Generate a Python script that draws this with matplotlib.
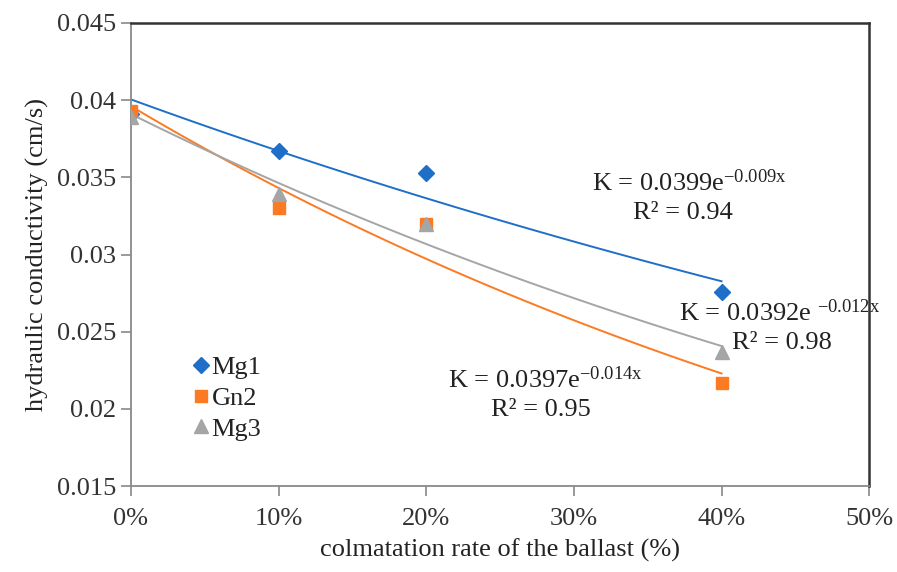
import numpy as np
import matplotlib.pyplot as plt

plt.rcParams['font.family'] = ['Liberation Serif', 'DejaVu Serif']
plt.rcParams['mathtext.fontset'] = 'custom'
plt.rcParams['mathtext.rm'] = 'Liberation Serif'
plt.rcParams['mathtext.it'] = 'Liberation Serif'

# données
taux = [0, 10, 20, 40]
mg1 = [0.0391, 0.0367, 0.0353, 0.0276]
gn2 = [0.0393, 0.0330, 0.0320, 0.0217]
mg3 = [0.0389, 0.0339, 0.0320, 0.0237]

noms = ["Mg1", "Gn2", "Mg3"]
couleurs = ["#1F6FC8", "#FB7A22", "#A5A5A5"]
marqueurs = ["D", "s", "^"]
tailles = [8, 9, 10]

equations = [r"K = 0.0399e$^{\mathrm{-0.009x}}$",
             r"K = 0.0392e $^{\mathrm{-0.012x}}$",
             r"K = 0.0397e$^{\mathrm{-0.014x}}$"]
r2 = ["R² = 0.94", "R² = 0.98", "R² = 0.95"]

fig = plt.figure(figsize=(8.97, 5.72), dpi=100)
ax = fig.add_axes([0.146, 0.150, 0.823, 0.810])

x = np.array(taux, dtype=float)
xs = np.linspace(0, 40, 100)
for serie, c in zip([mg1, gn2, mg3], couleurs):
    # courbe de tendance exponentielle (comme Excel)
    pente, ordonnee = np.polyfit(x, np.log(serie), 1)
    ax.plot(xs, np.exp(ordonnee) * np.exp(pente * xs), color=c, lw=1.4, zorder=2)
for serie, nom, c, m, t in zip([mg1, gn2, mg3], noms, couleurs, marqueurs, tailles):
    ax.plot(x, serie, ls="none", marker=m, ms=t, color=c, mec=c, label=nom, zorder=3)

ax.set_xlim(0, 50)
ax.set_ylim(0.015, 0.045)
ax.set_xticks([0, 10, 20, 30, 40, 50])
ax.set_xticklabels(["0%", "10%", "20%", "30%", "40%", "50%"])
ax.set_yticks([0.015, 0.02, 0.025, 0.03, 0.035, 0.04, 0.045])
ax.set_yticklabels(["0.015", "0.02", "0.025", "0.03", "0.035", "0.04", "0.045"])
ax.tick_params(axis="both", labelsize=19, colors="#898989", labelcolor="#333333",
               length=7, width=1.2)
ax.tick_params(axis="x", pad=9)

for cote in ["left", "bottom"]:
    ax.spines[cote].set_color("#898989")
    ax.spines[cote].set_linewidth(1.3)
for cote in ["top", "right"]:
    ax.spines[cote].set_color("#333333")
    ax.spines[cote].set_linewidth(1.8)

ax.set_xlabel("colmatation rate of the ballast (%)", fontsize=19, color="#222222", labelpad=6)
ax.set_ylabel("hydraulic conductivity (cm/s)", fontsize=19, color="#222222", labelpad=6)

# équations des courbes de tendance
style = dict(fontsize=19, color="#222222", va="center")
ax.text(31.2, 0.03464, equations[0], **style)
ax.text(37.4, 0.03269, r2[0], ha="center", **style)
ax.text(37.15, 0.02621, equations[1], **style)
ax.text(40.7, 0.02427, r2[1], **style)
ax.text(21.45, 0.02187, equations[2], **style)
ax.text(24.4, 0.01993, r2[2], **style)

leg = ax.legend(loc="upper left", bbox_to_anchor=(0.07, 0.305), frameon=False,
                fontsize=19, handlelength=0.6, handletextpad=0.1, labelspacing=0.28,
                borderaxespad=0)
for txt in leg.get_texts():
    txt.set_color("#222222")

fig.savefig("out.png", dpi=100)
